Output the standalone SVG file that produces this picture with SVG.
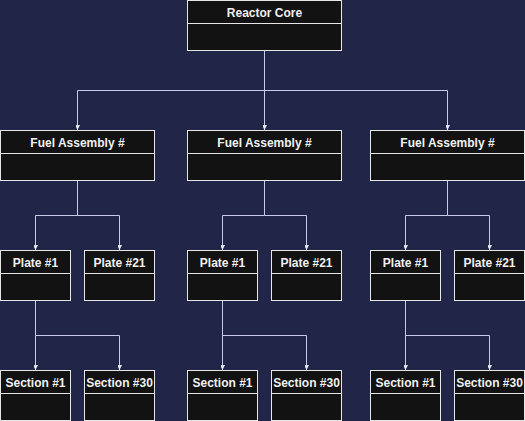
<svg xmlns="http://www.w3.org/2000/svg" width="525" height="421" viewBox="0 0 525 421">
<defs>
<style>
.box{fill:#121212;stroke:#e6e6e6;stroke-width:1}
.div{stroke:#e6e6e6;stroke-width:1}
.t{font-family:"Liberation Sans",Arial,sans-serif;font-size:12px;font-weight:bold;fill:#f0f0f0;text-anchor:middle}
.c{fill:none;stroke:#c8cbe3;stroke-width:1;marker-end:url(#ar)}
</style>
<marker id="ar" markerUnits="userSpaceOnUse" markerWidth="10" markerHeight="10" viewBox="-5 -8 10 10" refX="0" refY="0" orient="auto">
<path d="M0,0 L-6,-3 L-4.5,0 L-6,3 Z" fill="#e8e9f3" transform="rotate(0)"/>
</marker>
</defs>
<rect width="525" height="421" fill="#212547"/>
<g id="connectors">
<path class="c" d="M264.5,50.5 V90.5 H77.5 V130"/>
<path class="c" d="M264.5,50.5 V130"/>
<path class="c" d="M264.5,90.5 H447.5 V130"/>
<path class="c" d="M77.5,180.5 V215.5 H35.5 V250"/>
<path class="c" d="M77.5,215.5 H119.5 V250"/>
<path class="c" d="M264.5,180.5 V215.5 H222.5 V250"/>
<path class="c" d="M264.5,215.5 H306.5 V250"/>
<path class="c" d="M447.5,180.5 V215.5 H405.5 V250"/>
<path class="c" d="M447.5,215.5 H489.5 V250"/>
<path class="c" d="M35.5,300.5 V335.5 V370"/>
<path class="c" d="M35.5,335.5 H119.5 V370"/>
<path class="c" d="M222.5,300.5 V370"/>
<path class="c" d="M222.5,335.5 H306.5 V370"/>
<path class="c" d="M405.5,300.5 V370"/>
<path class="c" d="M405.5,335.5 H489.5 V370"/>
</g>
<g id="reactor-core"><rect class="box" x="187.5" y="0.5" width="154" height="50"/><line class="div" x1="187.5" y1="23.5" x2="341.5" y2="23.5"/><text class="t" x="264.5" y="17">Reactor Core</text></g>
<g id="fuel-1"><rect class="box" x="0.5" y="130.5" width="154" height="50"/><line class="div" x1="0.5" y1="153.5" x2="154.5" y2="153.5"/><text class="t" x="77.5" y="147">Fuel Assembly #</text></g>
<g id="fuel-2"><rect class="box" x="187.5" y="130.5" width="154" height="50"/><line class="div" x1="187.5" y1="153.5" x2="341.5" y2="153.5"/><text class="t" x="264.5" y="147">Fuel Assembly #</text></g>
<g id="fuel-3"><rect class="box" x="370.5" y="130.5" width="154" height="50"/><line class="div" x1="370.5" y1="153.5" x2="524.5" y2="153.5"/><text class="t" x="447.5" y="147">Fuel Assembly #</text></g>
<g id="plate-1a"><rect class="box" x="0.5" y="250.5" width="70" height="50"/><line class="div" x1="0.5" y1="273.5" x2="70.5" y2="273.5"/><text class="t" x="35.5" y="267">Plate #1</text></g>
<g id="plate-21a"><rect class="box" x="84.5" y="250.5" width="70" height="50"/><line class="div" x1="84.5" y1="273.5" x2="154.5" y2="273.5"/><text class="t" x="119.5" y="267">Plate #21</text></g>
<g id="plate-1b"><rect class="box" x="187.5" y="250.5" width="70" height="50"/><line class="div" x1="187.5" y1="273.5" x2="257.5" y2="273.5"/><text class="t" x="222.5" y="267">Plate #1</text></g>
<g id="plate-21b"><rect class="box" x="271.5" y="250.5" width="70" height="50"/><line class="div" x1="271.5" y1="273.5" x2="341.5" y2="273.5"/><text class="t" x="306.5" y="267">Plate #21</text></g>
<g id="plate-1c"><rect class="box" x="370.5" y="250.5" width="70" height="50"/><line class="div" x1="370.5" y1="273.5" x2="440.5" y2="273.5"/><text class="t" x="405.5" y="267">Plate #1</text></g>
<g id="plate-21c"><rect class="box" x="454.5" y="250.5" width="70" height="50"/><line class="div" x1="454.5" y1="273.5" x2="524.5" y2="273.5"/><text class="t" x="489.5" y="267">Plate #21</text></g>
<g id="section-1a"><rect class="box" x="0.5" y="370.5" width="70" height="50"/><line class="div" x1="0.5" y1="393.5" x2="70.5" y2="393.5"/><text class="t" x="35.5" y="387">Section #1</text></g>
<g id="section-30a"><rect class="box" x="84.5" y="370.5" width="70" height="50"/><line class="div" x1="84.5" y1="393.5" x2="154.5" y2="393.5"/><text class="t" x="119.5" y="387">Section #30</text></g>
<g id="section-1b"><rect class="box" x="187.5" y="370.5" width="70" height="50"/><line class="div" x1="187.5" y1="393.5" x2="257.5" y2="393.5"/><text class="t" x="222.5" y="387">Section #1</text></g>
<g id="section-30b"><rect class="box" x="271.5" y="370.5" width="70" height="50"/><line class="div" x1="271.5" y1="393.5" x2="341.5" y2="393.5"/><text class="t" x="306.5" y="387">Section #30</text></g>
<g id="section-1c"><rect class="box" x="370.5" y="370.5" width="70" height="50"/><line class="div" x1="370.5" y1="393.5" x2="440.5" y2="393.5"/><text class="t" x="405.5" y="387">Section #1</text></g>
<g id="section-30c"><rect class="box" x="454.5" y="370.5" width="70" height="50"/><line class="div" x1="454.5" y1="393.5" x2="524.5" y2="393.5"/><text class="t" x="489.5" y="387">Section #30</text></g>
</svg>
